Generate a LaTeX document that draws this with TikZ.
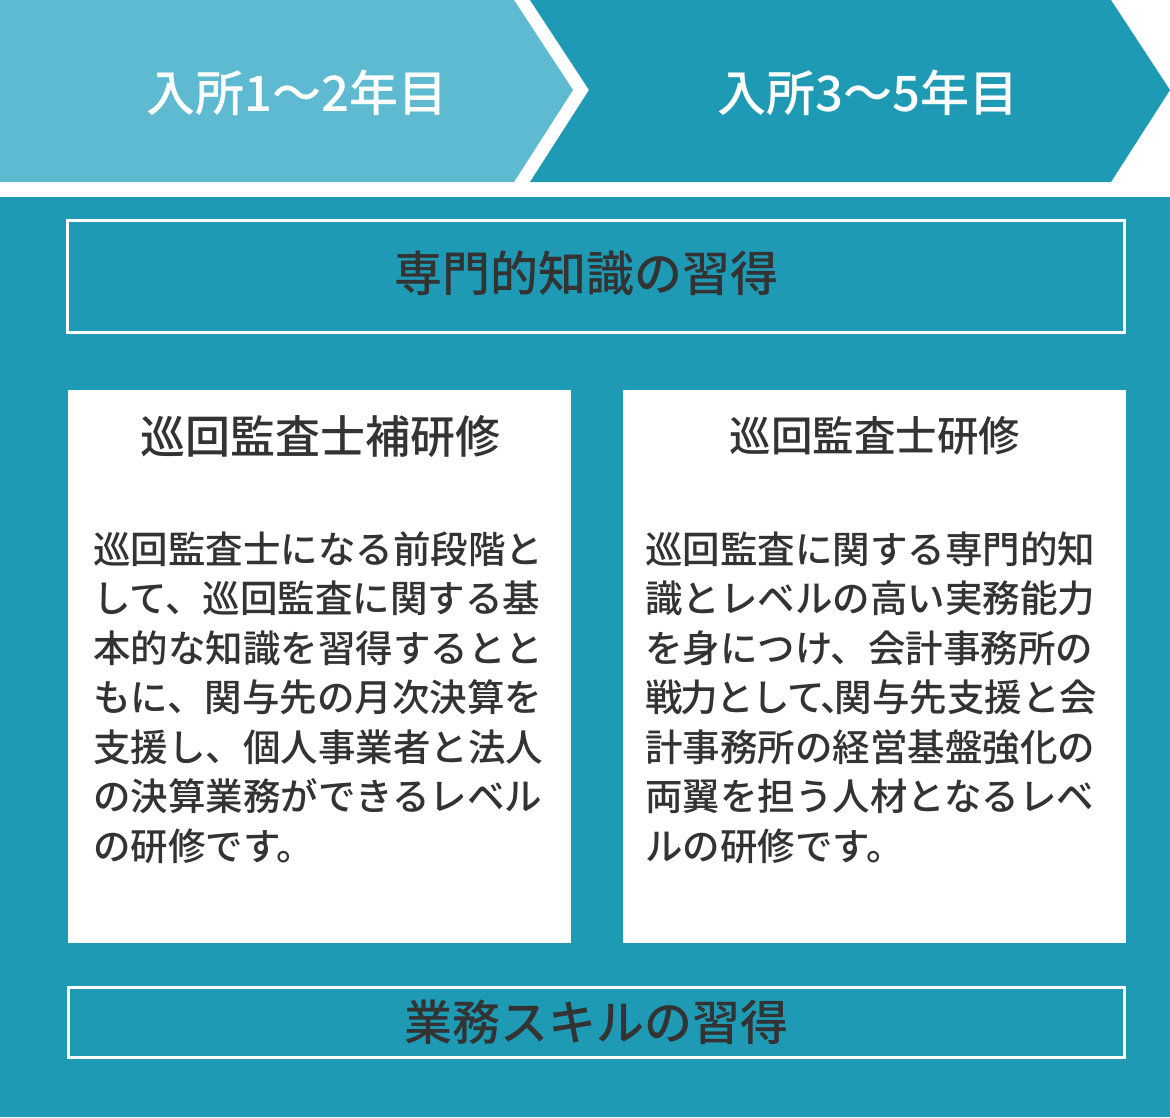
\documentclass[tikz,border=0pt]{standalone}
\usepackage{fontspec}
\setmainfont{Noto Sans CJK JP}[BoldFont={Noto Sans CJK JP Medium}]
\usetikzlibrary{positioning}
\definecolor{tealdark}{HTML}{1E9AB5}
\definecolor{teallight}{HTML}{5DBAD1}
\definecolor{ink}{HTML}{333333}
\tikzset{%
	chevlabel/.style = {text=white, font=\fontsize{49}{52}\selectfont\bfseries}, % Year label
	framed/.style    = {draw=white, line width=3pt, minimum width=1057pt},
	heading/.style   = {text=ink, font=\fontsize{48}{52}\selectfont\bfseries},
	card/.style      = {fill=white, inner sep=0pt, minimum width=503pt, minimum height=553pt},
	cardtitle/.style = {text=ink},
	cardtext/.style  = {text=ink, anchor=base west, inner sep=0pt, font=\fontsize{37.5}{49.5}\selectfont\bfseries},
}

\begin{document}
\begin{tikzpicture}[x=1pt, y=-1pt]
	\useasboundingbox (0,0) rectangle (1170,1117);
	\fill[white] (0,0) rectangle (1170,1117);
	% chevrons
	\fill[teallight] (0,0) -- (514,0) -- (573,90) -- (514,182) -- (0,182) -- cycle;
	\fill[tealdark] (530,0) -- (1111,0) -- (1170,90) -- (1111,182) -- (530,182) -- (589,90) -- cycle;
	\node[chevlabel] (year1) at (297,93) {入所1～2年目};
	\node[chevlabel] (year2) at (868,93) {入所3～5年目};
	% panel
	\fill[tealdark] (0,197) rectangle (1170,1117);
	\node[framed, minimum height=112pt] (know) at (596,276.5) {};
	\node[heading] (knowtext) at (586,273) {専門的知識の習得};
	\node[card] (cardA) at (319.5,666.5) {};
	\node[card, right=52pt of cardA] (cardB) {};
	\node[cardtitle, font=\fontsize{45}{50}\selectfont\bfseries] (titleA) at (320,437) {巡回監査士補研修};
	\node[cardtitle, font=\fontsize{41.5}{46}\selectfont\bfseries] (titleB) at (875,436) {巡回監査士研修};
	\foreach \txt [count=\i from 0] in {巡回監査士になる前段階と,して、巡回監査に関する基,本的な知識を習得するとと,もに、関与先の月次決算を,支援し、個人事業者と法人,の決算業務ができるレベル,の研修です。}
		\node[cardtext] (textA\i) at (93,563+49.5*\i) {\txt};
	\foreach \txt [count=\i from 0] in {巡回監査に関する専門的知,識とレベルの高い実務能力,を身につけ、会計事務所の,{戦\kern-.05em力\kern-.05emと\kern-.05emし\kern-.05emて\kern-.05em\makebox[.3em][l]{\kern-.08em、}関与先支援と会},計事務所の経営基盤強化の,両翼を担う人材となるレベ,ルの研修です。}
		\node[cardtext] (textB\i) at (645,563+49.5*\i) {\txt};
	\node[framed, minimum width=1056pt, minimum height=70pt] (skill) at (596.5,1022.5) {};
	\node[heading] (skilltext) at (skill.center) {業務スキルの習得};
\end{tikzpicture}
\end{document}
